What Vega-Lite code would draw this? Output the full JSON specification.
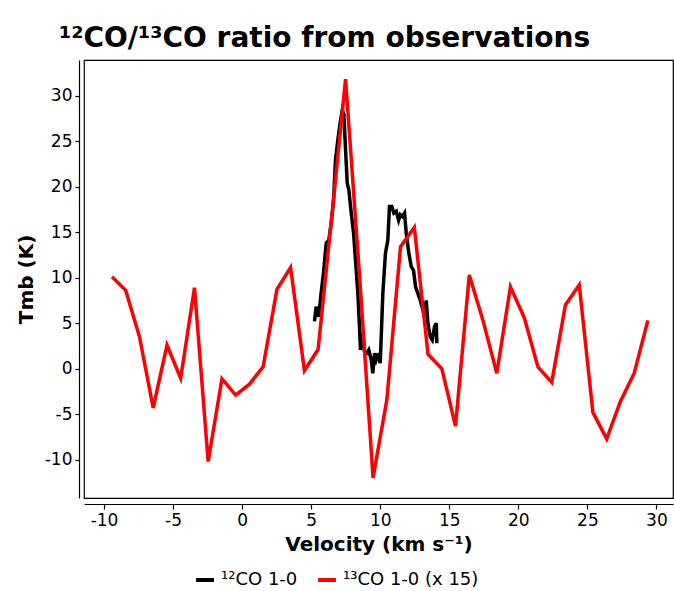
{
  "$schema": "https://vega.github.io/schema/vega-lite/v6.json",
  "autosize": "none",
  "width": 589,
  "height": 438,
  "padding": {"left": 84, "top": 60, "right": 1, "bottom": 93},
  "background": "white",
  "config": {
    "font": "DejaVu Sans",
    "view": {"stroke": "black", "strokeWidth": 1.2},
    "axis": {"grid": false, "domainColor": "black", "tickColor": "black", "labelColor": "black", "titleColor": "black", "labelFont": "DejaVu Sans", "titleFont": "DejaVu Sans"}
  },
  "title": {
    "text": "¹²CO/¹³CO ratio from observations",
    "fontSize": 28,
    "fontWeight": "bold",
    "font": "DejaVu Sans",
    "color": "black",
    "anchor": "middle",
    "dx": -54,
    "offset": 7
  },
  "data": {
    "values": [
      {"v": 5.24, "t": 5.2, "s": "¹²CO 1-0"},
      {"v": 5.36, "t": 6.8, "s": "¹²CO 1-0"},
      {"v": 5.55, "t": 5.7, "s": "¹²CO 1-0"},
      {"v": 5.72, "t": 8.3, "s": "¹²CO 1-0"},
      {"v": 5.89, "t": 10.5, "s": "¹²CO 1-0"},
      {"v": 6.09, "t": 13.8, "s": "¹²CO 1-0"},
      {"v": 6.28, "t": 14.1, "s": "¹²CO 1-0"},
      {"v": 6.45, "t": 16.0, "s": "¹²CO 1-0"},
      {"v": 6.62, "t": 18.5, "s": "¹²CO 1-0"},
      {"v": 6.76, "t": 22.9, "s": "¹²CO 1-0"},
      {"v": 6.93, "t": 25.1, "s": "¹²CO 1-0"},
      {"v": 7.1, "t": 27.0, "s": "¹²CO 1-0"},
      {"v": 7.25, "t": 28.4, "s": "¹²CO 1-0"},
      {"v": 7.37, "t": 27.9, "s": "¹²CO 1-0"},
      {"v": 7.49, "t": 24.0, "s": "¹²CO 1-0"},
      {"v": 7.61, "t": 20.4, "s": "¹²CO 1-0"},
      {"v": 7.73, "t": 19.6, "s": "¹²CO 1-0"},
      {"v": 7.9, "t": 17.1, "s": "¹²CO 1-0"},
      {"v": 8.07, "t": 14.9, "s": "¹²CO 1-0"},
      {"v": 8.21, "t": 11.9, "s": "¹²CO 1-0"},
      {"v": 8.38, "t": 8.3, "s": "¹²CO 1-0"},
      {"v": 8.5, "t": 4.6, "s": "¹²CO 1-0"},
      {"v": 8.57, "t": 2.05, "s": "¹²CO 1-0"},
      {"v": 8.74, "t": 3.9, "s": "¹²CO 1-0"},
      {"v": 8.86, "t": 1.9, "s": "¹²CO 1-0"},
      {"v": 9.03, "t": 1.7, "s": "¹²CO 1-0"},
      {"v": 9.17, "t": 2.05, "s": "¹²CO 1-0"},
      {"v": 9.35, "t": 0.96, "s": "¹²CO 1-0"},
      {"v": 9.46, "t": -0.5, "s": "¹²CO 1-0"},
      {"v": 9.59, "t": 1.7, "s": "¹²CO 1-0"},
      {"v": 9.71, "t": 0.96, "s": "¹²CO 1-0"},
      {"v": 9.88, "t": 1.7, "s": "¹²CO 1-0"},
      {"v": 10.0, "t": 0.6, "s": "¹²CO 1-0"},
      {"v": 10.19, "t": 8.3, "s": "¹²CO 1-0"},
      {"v": 10.38, "t": 12.7, "s": "¹²CO 1-0"},
      {"v": 10.55, "t": 14.1, "s": "¹²CO 1-0"},
      {"v": 10.67, "t": 17.8, "s": "¹²CO 1-0"},
      {"v": 10.84, "t": 17.8, "s": "¹²CO 1-0"},
      {"v": 10.99, "t": 17.1, "s": "¹²CO 1-0"},
      {"v": 11.16, "t": 17.3, "s": "¹²CO 1-0"},
      {"v": 11.33, "t": 16.3, "s": "¹²CO 1-0"},
      {"v": 11.45, "t": 16.9, "s": "¹²CO 1-0"},
      {"v": 11.59, "t": 16.7, "s": "¹²CO 1-0"},
      {"v": 11.76, "t": 17.1, "s": "¹²CO 1-0"},
      {"v": 11.88, "t": 14.9, "s": "¹²CO 1-0"},
      {"v": 12.07, "t": 12.7, "s": "¹²CO 1-0"},
      {"v": 12.25, "t": 11.2, "s": "¹²CO 1-0"},
      {"v": 12.41, "t": 10.8, "s": "¹²CO 1-0"},
      {"v": 12.56, "t": 9.0, "s": "¹²CO 1-0"},
      {"v": 12.72, "t": 8.3, "s": "¹²CO 1-0"},
      {"v": 12.9, "t": 7.5, "s": "¹²CO 1-0"},
      {"v": 13.09, "t": 6.45, "s": "¹²CO 1-0"},
      {"v": 13.21, "t": 5.7, "s": "¹²CO 1-0"},
      {"v": 13.33, "t": 7.5, "s": "¹²CO 1-0"},
      {"v": 13.45, "t": 5.0, "s": "¹²CO 1-0"},
      {"v": 13.62, "t": 3.5, "s": "¹²CO 1-0"},
      {"v": 13.77, "t": 3.15, "s": "¹²CO 1-0"},
      {"v": 13.93, "t": 4.6, "s": "¹²CO 1-0"},
      {"v": 14.06, "t": 5.0, "s": "¹²CO 1-0"},
      {"v": 14.1, "t": 2.8, "s": "¹²CO 1-0"},
      {"v": -9.42, "t": 10.1, "s": "¹³CO 1-0 (x 15)"},
      {"v": -8.43, "t": 8.6, "s": "¹³CO 1-0 (x 15)"},
      {"v": -7.43, "t": 3.5, "s": "¹³CO 1-0 (x 15)"},
      {"v": -6.44, "t": -4.3, "s": "¹³CO 1-0 (x 15)"},
      {"v": -5.44, "t": 2.6, "s": "¹³CO 1-0 (x 15)"},
      {"v": -4.45, "t": -1.05, "s": "¹³CO 1-0 (x 15)"},
      {"v": -3.45, "t": 8.9, "s": "¹³CO 1-0 (x 15)"},
      {"v": -2.46, "t": -10.2, "s": "¹³CO 1-0 (x 15)"},
      {"v": -1.46, "t": -1.1, "s": "¹³CO 1-0 (x 15)"},
      {"v": -0.47, "t": -2.9, "s": "¹³CO 1-0 (x 15)"},
      {"v": 0.53, "t": -1.7, "s": "¹³CO 1-0 (x 15)"},
      {"v": 1.52, "t": 0.2, "s": "¹³CO 1-0 (x 15)"},
      {"v": 2.52, "t": 8.7, "s": "¹³CO 1-0 (x 15)"},
      {"v": 3.51, "t": 11.1, "s": "¹³CO 1-0 (x 15)"},
      {"v": 4.51, "t": -0.2, "s": "¹³CO 1-0 (x 15)"},
      {"v": 5.5, "t": 2.1, "s": "¹³CO 1-0 (x 15)"},
      {"v": 6.5, "t": 16.8, "s": "¹³CO 1-0 (x 15)"},
      {"v": 7.49, "t": 31.8, "s": "¹³CO 1-0 (x 15)"},
      {"v": 8.49, "t": 10.5, "s": "¹³CO 1-0 (x 15)"},
      {"v": 9.48, "t": -12.0, "s": "¹³CO 1-0 (x 15)"},
      {"v": 10.48, "t": -3.4, "s": "¹³CO 1-0 (x 15)"},
      {"v": 11.47, "t": 13.4, "s": "¹³CO 1-0 (x 15)"},
      {"v": 12.47, "t": 15.5, "s": "¹³CO 1-0 (x 15)"},
      {"v": 13.46, "t": 1.6, "s": "¹³CO 1-0 (x 15)"},
      {"v": 14.46, "t": 0.0, "s": "¹³CO 1-0 (x 15)"},
      {"v": 15.45, "t": -6.3, "s": "¹³CO 1-0 (x 15)"},
      {"v": 16.45, "t": 10.3, "s": "¹³CO 1-0 (x 15)"},
      {"v": 17.44, "t": 5.3, "s": "¹³CO 1-0 (x 15)"},
      {"v": 18.44, "t": -0.5, "s": "¹³CO 1-0 (x 15)"},
      {"v": 19.43, "t": 9.0, "s": "¹³CO 1-0 (x 15)"},
      {"v": 20.43, "t": 5.6, "s": "¹³CO 1-0 (x 15)"},
      {"v": 21.42, "t": 0.2, "s": "¹³CO 1-0 (x 15)"},
      {"v": 22.42, "t": -1.5, "s": "¹³CO 1-0 (x 15)"},
      {"v": 23.41, "t": 7.0, "s": "¹³CO 1-0 (x 15)"},
      {"v": 24.41, "t": 9.2, "s": "¹³CO 1-0 (x 15)"},
      {"v": 25.4, "t": -4.8, "s": "¹³CO 1-0 (x 15)"},
      {"v": 26.4, "t": -7.7, "s": "¹³CO 1-0 (x 15)"},
      {"v": 27.39, "t": -3.6, "s": "¹³CO 1-0 (x 15)"},
      {"v": 28.39, "t": -0.5, "s": "¹³CO 1-0 (x 15)"},
      {"v": 29.38, "t": 5.3, "s": "¹³CO 1-0 (x 15)"}
    ]
  },
  "encoding": {
    "x": {
      "field": "v", "type": "quantitative",
      "scale": {"domain": [-11.45, 31.2], "nice": false, "zero": false},
      "axis": {
        "title": "Velocity (km s⁻¹)", "titleFontSize": 20, "titleFontWeight": "bold", "titlePadding": 6,
        "values": [-10, -5, 0, 5, 10, 15, 20, 25, 30],
        "labelExpr": "'' + datum.value",
        "labelFontSize": 17, "labelPadding": 3,
        "offset": 6, "tickSize": 5, "domainWidth": 1.2, "tickWidth": 1.2
      }
    },
    "y": {
      "field": "t", "type": "quantitative",
      "scale": {"domain": [-14.2, 33.9], "nice": false, "zero": false},
      "axis": {
        "title": "Tmb (K)", "titleFontSize": 20, "titleFontWeight": "bold", "titlePadding": 8,
        "values": [-10, -5, 0, 5, 10, 15, 20, 25, 30],
        "labelExpr": "'' + datum.value",
        "labelFontSize": 17, "labelPadding": 3,
        "offset": 5, "tickSize": 4, "domainWidth": 1.2, "tickWidth": 1.2
      }
    },
    "color": {
      "field": "s", "type": "nominal",
      "scale": {"domain": ["¹²CO 1-0", "¹³CO 1-0 (x 15)"], "range": ["black", "#ff0000"]},
      "legend": {
        "title": null, "orient": "none", "direction": "horizontal",
        "legendX": 110, "legendY": 509,
        "symbolType": "stroke", "symbolSize": 320, "symbolStrokeWidth": 4,
        "labelFontSize": 18, "labelFont": "DejaVu Sans", "labelColor": "black",
        "labelOffset": 5, "columnPadding": 12
      }
    }
  },
  "layer": [
    {
      "transform": [{"filter": "datum.s == '¹²CO 1-0'"}],
      "mark": {"type": "line", "strokeWidth": 3.5, "strokeJoin": "miter"}
    },
    {
      "transform": [{"filter": "datum.s == '¹³CO 1-0 (x 15)'"}],
      "mark": {"type": "line", "strokeWidth": 3.5, "strokeJoin": "miter"}
    }
  ]
}
